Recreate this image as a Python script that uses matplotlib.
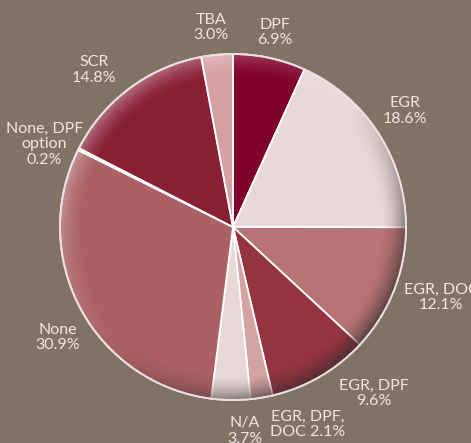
import numpy as np
import matplotlib.pyplot as plt
from matplotlib.patches import Circle

# wedge data, clockwise from 12 o'clock
labels = ['DPF\n6.9%', 'EGR\n18.6%', 'EGR, DOC\n12.1%', 'EGR, DPF\n9.6%',
          'EGR, DPF,\nDOC 2.1%', 'N/A\n3.7%', 'None\n30.9%',
          'None, DPF\noption\n0.2%', 'SCR\n14.8%', 'TBA\n3.0%']
shares = [6.9, 18.6, 12.1, 9.6, 2.1, 3.7, 30.9, 0.2, 14.8, 3.0]
colors = ['#7f0029', '#e9d8d8', '#b87374', '#953341', '#d4a3a4',
          '#e9d8d8', '#ab6063', '#c98f92', '#891f35', '#d4a0a2']
# label placement: radius factor and angle nudge (deg, ccw)
label_dist = [1.15, 1.20, 1.27, 1.26, 1.22, 1.18, 1.20, 1.19, 1.21, 1.16]
label_shift = [0, 1.2, 2.7, 10, 11.2, 4.1, 4, 3, 4.8, 1]

bg = '#817265'
W, H = 471, 443
cx, cy, r = 233, 443 - 227, 173

fig = plt.figure(figsize=(W / 100, H / 100), dpi=100, facecolor=bg)
ax = fig.add_axes([0, 0, 1, 1])
ax.set_facecolor(bg)

wedges, _ = ax.pie(shares, colors=colors, startangle=90, counterclock=False,
                   center=(cx, cy), radius=r, frame=True,
                   wedgeprops=dict(edgecolor='white', linewidth=1.3))

# 3d-ish rim shading: light from top-left, dark bottom-right
xs = np.linspace(cx - r, cx + r, 400)
ys = np.linspace(cy - r, cy + r, 400)
X, Y = np.meshgrid(xs, ys)
dx, dy = (X - cx) / r, (Y - cy) / r
rho = np.hypot(dx, dy)
ang = np.arctan2(dy, dx)
rim = np.clip((rho - 0.86) / 0.14, 0, 1) ** 1.6
d = np.cos(ang - np.deg2rad(135))
img = np.zeros((400, 400, 4))
dark = d < 0
img[..., :3] = np.where(dark[..., None], 0.18, 1.0)
img[..., 0] = np.where(dark, 0.22, 1.0)
img[..., 3] = np.where(dark, rim * (-d) * 0.75, rim * d * 0.35)
img[rho > 1] = 0
im = ax.imshow(img, extent=(cx - r, cx + r, cy - r, cy + r), origin='lower',
               zorder=3, interpolation='bilinear')
im.set_clip_path(Circle((cx, cy), r, transform=ax.transData))

ax.add_patch(Circle((cx, cy), r, fill=False, edgecolor='#e8e0e0',
                    linewidth=1.3, zorder=4))
for w in wedges:
    w.set_zorder(2)

for w, lab, ld, sh in zip(wedges, labels, label_dist, label_shift):
    mid = np.deg2rad((w.theta1 + w.theta2) / 2 + sh)
    ax.text(cx + ld * r * np.cos(mid), cy + ld * r * np.sin(mid), lab,
            ha='center', va='center', color='#eee6e2', fontsize=11.5,
            family='Lato', linespacing=1.15, zorder=5)

ax.set_xlim(0, W)
ax.set_ylim(0, H)
ax.set_aspect('auto')
ax.axis('off')
fig.savefig('out.png', dpi=100, facecolor=bg)
